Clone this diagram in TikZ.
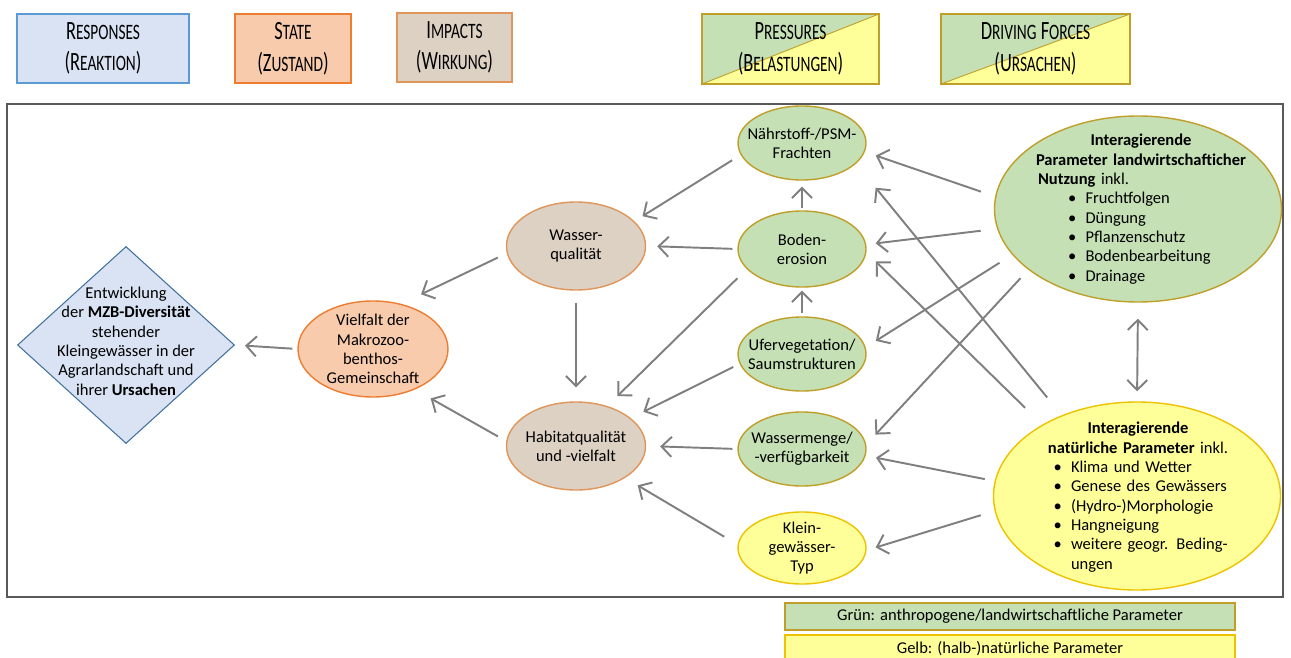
\documentclass[tikz,border=0pt]{standalone}
\usepackage{fontspec}
\setmainfont{Carlito}
\newfontfamily\kopffont[FakeStretch=0.7]{Carlito}
\usetikzlibrary{shapes.geometric, arrows.meta}

\definecolor{blaufill}{HTML}{DAE3F3}
\definecolor{blaurand}{HTML}{5B9BD5}
\definecolor{rautenrand}{HTML}{41719C}
\definecolor{orangefill}{HTML}{F8CBAD}
\definecolor{orangerand}{HTML}{ED7D31}
\definecolor{braunfill}{HTML}{DDD1C3}
\definecolor{braunrand}{HTML}{E0955A}
\definecolor{gruenfill}{HTML}{C5E0B4}
\definecolor{gruenrand}{HTML}{BF9F2A}
\definecolor{gelbfill}{HTML}{FFFF99}
\definecolor{gelbrand}{HTML}{EDC200}
\definecolor{pfeilgrau}{HTML}{7F7F7F}
\definecolor{rahmengrau}{HTML}{595959}

\newcommand{\kap}[2]{#1{\fontsize{12.5}{18}\selectfont #2}}
\newcommand{\punkt}[2]{\hspace*{#1}\makebox[3.5mm][l]{\textbullet}#2}

\begin{document}
\begin{tikzpicture}[x=0.2mm, y=-0.2mm,
        kopf/.style={draw, line width=0.6pt, minimum height=13.8mm, inner sep=0pt, align=center, font=\kopffont\fontsize{15}{18}\selectfont},
        geteilt/.style={draw=gruenrand, path picture={
            \fill[gelbfill] (path picture bounding box.south west) rectangle (path picture bounding box.north east);
            \fill[gruenfill] (path picture bounding box.south west) -- (path picture bounding box.north east) -- (path picture bounding box.north west) -- cycle;
            \draw[gruenrand, line width=0.5pt] (path picture bounding box.south west) -- (path picture bounding box.north east);}},
        ell/.style={ellipse, draw, line width=0.8pt, inner sep=0pt},
        druck/.style={ell, minimum width=25.6mm, minimum height=14.8mm},
        txt/.style={align=center, font=\fontsize{9.4}{11}\selectfont},
        pfeil/.style={draw=pfeilgrau, line width=1.1pt, -{Straight Barb[length=2mm, width=4mm]}},
        legende/.style={draw, line width=0.6pt, minimum width=90mm, minimum height=5.4mm, inner sep=0pt, font=\fontsize{9.4}{11}\selectfont}]
    \useasboundingbox (0,0) rectangle (1291,658);

    \node[kopf, fill=blaufill, draw=blaurand, minimum width=34.4mm] (responses) at (103,48.5) {\kap{R}{ESPONSES}\\(\kap{R}{EAKTION})};
    \node[kopf, fill=orangefill, draw=orangerand, minimum width=23.2mm] (state) at (293,48.5) {\kap{S}{TATE}\\(\kap{Z}{USTAND})};
    \node[kopf, fill=braunfill, draw=braunrand, minimum width=23mm] (impacts) at (454.5,47.5) {\kap{I}{MPACTS}\\(\kap{W}{IRKUNG})};
    \node[kopf, geteilt, minimum width=35.4mm, minimum height=14mm] (pressures) at (790.5,49) {\kap{P}{RESSURES}\\(\kap{B}{ELASTUNGEN})};
    \node[kopf, geteilt, minimum width=37.8mm, minimum height=14mm] (driving) at (1035.5,49) {\kap{D}{RIVING} \kap{F}{ORCES}\\(\kap{U}{RSACHEN})};

    \draw[rahmengrau, line width=0.8pt] (7,104) rectangle (1283,597);

    \node[diamond, draw=rautenrand, fill=blaufill, line width=0.6pt, inner sep=0pt, minimum width=43.4mm, minimum height=39.4mm,
        label={[txt, yshift=0.8mm]center:Entwicklung\\der \textbf{MZB-Diversität}\\stehender\\Kleingewässer in der\\Agrarlandschaft und\\ihrer \textbf{Ursachen}}] (raute) at (126,345) {};
    \node[ell, fill=orangefill, draw=orangerand, minimum width=30mm, minimum height=19.2mm,
        label={[txt]center:Vielfalt der\\Makrozoo-\\benthos-\\Gemeinschaft}] (vielfalt) at (373,349) {};
    \node[ell, fill=braunfill, draw=braunrand, minimum width=27.8mm, minimum height=17.6mm,
        label={[txt]center:Wasser-\\qualität}] (wasser) at (576,246) {};
    \node[ell, fill=braunfill, draw=braunrand, minimum width=27.8mm, minimum height=17.6mm,
        label={[txt]center:Habitatqualität\\und -vielfalt}] (habitat) at (576,446) {};

    \node[druck, fill=gruenfill, draw=gruenrand, label={[txt]center:Nährstoff-/PSM-\\Frachten}] (naehr) at (802,143) {};
    \node[druck, fill=gruenfill, draw=gruenrand, minimum height=15.2mm, label={[txt]center:Boden-\\erosion}] (boden) at (802,249) {};
    \node[druck, fill=gruenfill, draw=gruenrand, label={[txt]center:Ufervegetation/\\Saumstrukturen}] (ufer) at (802,354) {};
    \node[druck, fill=gruenfill, draw=gruenrand, label={[txt]center:Wassermenge/\\-verfügbarkeit}] (wmenge) at (802,449) {};
    \node[druck, fill=gelbfill, draw=gelbrand, minimum height=14.4mm, label={[txt]center:Klein-\\gewässer-\\Typ}] (klein) at (802,548) {};

    \node[ell, fill=gruenfill, draw=gruenrand, minimum width=57.4mm, minimum height=37.2mm] (nutz) at (1138,209) {};
    \node[font=\fontsize{9.4}{11}\selectfont, text width=46mm, align=left, inner sep=0pt] (nutztext) at (1141,209) {%
        {\centering\textbf{Interagierende}\\\textbf{Parameter landwirtschafticher}\par}
        \hspace*{2.4mm}\textbf{Nutzung} inkl.\\
        \punkt{8.4mm}{Fruchtfolgen}\\
        \punkt{8.4mm}{Düngung}\\
        \punkt{8.4mm}{Pflanzenschutz}\\
        \punkt{8.4mm}{Bodenbearbeitung}\\
        \punkt{8.4mm}{Drainage}};
    \node[ell, fill=gelbfill, draw=gelbrand, minimum width=57.4mm, minimum height=37.6mm] (natur) at (1137,496) {};
    \node[font=\fontsize{9.4}{11}\selectfont, text width=41mm, align=left, inner sep=0pt] (naturtext) at (1138,497) {%
        {\centering\textbf{Interagierende}\\\textbf{natürliche Parameter} inkl.\par}
        \punkt{3.6mm}{Klima und Wetter}\\
        \punkt{3.6mm}{Genese des Gewässers}\\
        \punkt{3.6mm}{(Hydro-)Morphologie}\\
        \punkt{3.6mm}{Hangneigung}\\
        \punkt{3.6mm}{weitere geogr. Beding-}\\
        \hspace*{7.1mm}ungen};

    \draw[pfeil, shorten <=1mm, shorten >=2mm] (vielfalt.west) -- (raute.east);
    \draw[pfeil, shorten <=2mm, shorten >=4.4mm] (wasser.186) -- (vielfalt.58);
    \draw[pfeil, shorten <=1.9mm, shorten >=3.6mm] (habitat.176) -- (vielfalt.316);
    \draw[pfeil, shorten <=2.4mm, shorten >=2.8mm] (wasser.south) -- (habitat.north);
    \draw[pfeil, shorten <=2mm, shorten >=1.9mm] (naehr.191) -- (wasser.23);
    \draw[pfeil, shorten <=1mm, shorten >=2.2mm] (boden.west) -- (wasser.east);
    \draw[pfeil, shorten <=0.4mm, shorten >=1.2mm] (boden.north) -- (naehr.south);
    \draw[pfeil, shorten <=0.6mm, shorten >=0.6mm] (ufer.north) -- (boden.south);
    \draw[pfeil, shorten <=2.6mm, shorten >=2.8mm] (boden.200) -- (habitat.52);
    \draw[pfeil, shorten <=1.4mm, shorten >=2.8mm] (ufer.189) -- (habitat.27);
    \draw[pfeil, shorten <=1mm, shorten >=2.8mm] (wmenge.west) -- (habitat.east);
    \draw[pfeil, shorten <=3.1mm, shorten >=2.9mm] (klein.177) -- (habitat.327);

    \draw[pfeil, shorten <=3mm, shorten >=2.3mm] (nutz.175) -- (naehr.352);
    \draw[pfeil, shorten <=3.3mm, shorten >=1.9mm] (nutz.188) -- (boden.4);
    \draw[pfeil, shorten <=3mm, shorten >=2.4mm] (nutz.200) -- (ufer.6);
    \draw[pfeil, shorten <=2.3mm, shorten >=2.7mm] (nutz.209) -- (wmenge.4);
    \draw[pfeil, shorten <=4.6mm, shorten >=6.2mm] (natur.133) -- (naehr.339);
    \draw[pfeil, shorten <=4.8mm, shorten >=2.6mm] (natur.143) -- (boden.357);
    \draw[pfeil, shorten <=2mm, shorten >=2.1mm] (natur.174) -- (wmenge.354);
    \draw[pfeil, shorten <=2.9mm, shorten >=1.9mm] (natur.186) -- (klein.358);
    \draw[pfeil, {Straight Barb[length=2mm, width=4mm]}-{Straight Barb[length=2mm, width=4mm]}, shorten <=3.2mm, shorten >=2mm] (nutz.south) -- (natur.north);

    \node[legende, fill=gruenfill, draw=gruenrand] (legGruen) at (1010,616.5) {Grün: anthropogene/landwirtschaftliche Parameter};
    \node[legende, fill=gelbfill, draw=gelbrand] (legGelb) at (1010,648.5) {Gelb: (halb-)natürliche Parameter};
\end{tikzpicture}
\end{document}
